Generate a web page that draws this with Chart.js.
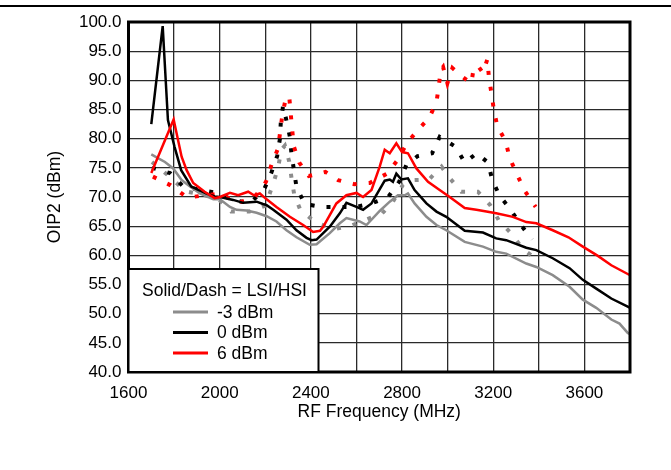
<!DOCTYPE html>
<html>
<head>
<meta charset="utf-8">
<title>OIP2 vs RF Frequency</title>
<script src="https://cdn.jsdelivr.net/npm/chart.js@4"></script>
<style>
  body { margin: 0; background: #fff; }
  #wrap { position: relative; width: 671px; height: 470px; }
  #rule { position: absolute; left: 0; top: 5px; width: 671px; height: 2px; background: #000; }
</style>
</head>
<body>
<div id="wrap">
  <div id="rule"></div>
  <canvas id="myChart" width="671" height="470"></canvas>
</div>
<script>
// LSI (solid) curves
const lsiM3Freq = [1700,1737,1760,1796,1833,1870,1913,1972,2001,2045,2074,2118,2162,2206,2249,2293,2337,2395,2425,2483,2527,2556,2614,2644,2702,2746,2782,2812,2826,2855,2907,2951,2994,3075,3155,3213,3257,3345,3389,3461,3535,3593,3652,3718,3754,3790,3800];
const lsiM3Oip2 = [77.3,76.5,76.0,74.9,72.9,71.8,70.6,69.6,69.6,68.3,67.8,67.7,67.3,66.7,65.8,64.3,63.1,61.8,61.9,63.8,65.5,66.4,65.8,65.2,67.6,69.2,70.3,70.3,70.6,68.9,66.6,65.2,64.3,62.3,61.5,60.6,60.3,58.6,58.0,56.6,54.6,52.4,51.0,49.0,48.3,46.7,46.5];

const lsi0Freq = [1700,1750,1773,1802,1831,1875,1934,1978,2001,2059,2103,2162,2190,2206,2235,2293,2337,2381,2403,2425,2483,2527,2556,2600,2629,2666,2724,2746,2760,2775,2797,2826,2855,2907,2951,2994,3075,3155,3213,3257,3345,3389,3461,3535,3593,3652,3718,3790,3800];
const lsi0Oip2 = [82.5,99.3,83.2,78.6,74.6,71.8,70.7,70.1,70.0,69.5,69.0,69.2,68.8,68.6,67.8,66.1,64.3,63.0,62.6,62.7,64.9,67.2,69.0,68.3,67.8,68.9,72.8,73.0,72.6,74.0,73.0,73.2,71.2,68.9,67.5,66.6,64.2,63.9,62.9,62.6,61.3,60.9,59.5,57.8,55.8,54.3,52.6,51.2,51.0];

const lsi6Freq = [1700,1798,1833,1855,1884,1934,1978,2001,2045,2081,2125,2150,2176,2206,2249,2308,2366,2410,2440,2454,2512,2556,2600,2629,2666,2702,2724,2746,2775,2800,2826,2863,2914,2965,3009,3075,3126,3170,3213,3286,3345,3389,3461,3530,3593,3659,3718,3790,3800];
const lsi6Oip2 = [74.1,83.3,76.9,74.6,72.4,70.9,69.8,70.0,70.7,70.3,70.9,70.3,70.6,69.6,68.3,66.6,65.2,64.0,64.2,64.9,68.9,70.3,70.7,70.0,71.2,75.2,78.1,77.5,79.2,77.7,77.5,74.9,72.6,71.2,70.0,68.1,67.8,67.5,67.2,66.6,65.7,65.5,64.3,63.1,61.5,59.9,58.3,56.8,56.6];

// HSI (dotted) curves
const hsiM3Freq = [1703,1780,1850,1990,2050,2130,2200,2235,2256,2271,2286,2305,2315,2327,2355,2423,2500,2570,2641,2713,2760,2804,2855,2918,2973,3010,3060,3133,3187,3226,3273,3333,3393];
const hsiM3Oip2 = [76.0,73.5,71.0,69.8,67.5,67.5,68.5,72.3,75.0,78.1,78.8,76.1,73.3,70.4,67.7,65.6,64.5,65.0,66.1,67.2,69.2,72.1,72.9,73.0,75.2,73.2,70.9,70.9,68.6,65.9,64.0,61.0,59.2];

const hsi0Freq = [1703,1782,1840,1986,2059,2132,2195,2227,2252,2264,2268,2278,2293,2308,2315,2337,2373,2446,2517,2597,2666,2739,2787,2819,2868,2932,2965,2990,3035,3075,3128,3177,3196,3228,3269,3318,3370];
const hsi0Oip2 = [75.0,74.1,71.8,70.7,69.5,68.9,71.3,74.2,77.0,79.9,82.7,85.6,83.1,80.3,77.4,71.7,68.8,68.3,68.3,68.3,68.9,70.0,72.6,75.5,77.0,77.5,80.3,79.7,78.6,75.9,77.5,75.9,72.9,70.2,68.2,65.4,62.7];

const hsi6Freq = [1707,1785,1858,1999,2081,2154,2203,2227,2256,2275,2290,2305,2311,2318,2325,2349,2391,2464,2519,2590,2658,2734,2782,2822,2877,2918,2951,2961,2970,2980,2999,3021,3065,3104,3115,3136,3155,3174,3181,3192,3203,3218,3254,3272,3304,3339,3386];
const hsi6Oip2 = [73.5,72.0,69.9,70.6,69.0,70.0,72.6,75.5,78.3,84.1,86.9,87.3,84.5,81.6,78.7,75.9,73.6,74.3,72.9,72.2,72.4,74.0,76.4,79.3,81.8,83.5,86.2,89.0,91.8,92.3,89.5,92.1,90.6,89.5,92.3,92.3,91.3,93.6,90.6,87.8,84.9,82.1,79.6,76.7,73.9,71.0,68.3];

const levelLabels = ['-3 dBm', '0 dBm', '6 dBm'];
const levelColors = ['#8c8c8c', '#000000', '#ff0000'];
const legendTitle = 'Solid/Dash = LSI/HSI';

const fontFamily = '"Liberation Sans", Arial, sans-serif';

function pairs(xs, ys){
    const out = [];
    for(let i = 0; i < xs.length; i++){
        out.push({x: xs[i], y: ys[i]});
    }
    return out;
}

function solid(label, color, xs, ys){
    return {label: label, data: pairs(xs, ys), borderColor: color, backgroundColor: color,
        borderWidth: 2.5, pointRadius: 0, showLine: true, tension: 0};
}

function dotted(label, color, xs, ys){
    return {label: label, data: pairs(xs, ys), borderColor: color, backgroundColor: color,
        borderWidth: 4, borderDash: [4, 12], pointRadius: 0, showLine: true, tension: 0};
}

// frame round the plot area plus the boxed legend
const framePlugin = {
    id: 'frame',
    afterDraw(chart){
        const ctx = chart.ctx;
        const a = chart.chartArea;
        ctx.save();
        ctx.strokeStyle = '#000';
        ctx.lineWidth = 3;
        ctx.strokeRect(a.left, a.top, a.right - a.left, a.bottom - a.top);

        // legend box
        const bx = a.left, by = 269, bw = 190, bh = a.bottom - 269;
        ctx.fillStyle = '#fff';
        ctx.fillRect(bx, by, bw, bh);
        ctx.lineWidth = 2;
        ctx.strokeRect(bx, by, bw, bh);
        ctx.fillStyle = '#000';
        ctx.font = '17.5px ' + fontFamily;
        ctx.textBaseline = 'middle';
        ctx.textAlign = 'center';
        ctx.fillText(legendTitle, bx + 96, 291);
        ctx.textAlign = 'left';
        for(let i = 0; i < levelLabels.length; i++){
            const y = 312 + i * 20.5;
            ctx.strokeStyle = levelColors[i];
            ctx.lineWidth = 3;
            ctx.beginPath();
            ctx.moveTo(173, y);
            ctx.lineTo(208, y);
            ctx.stroke();
            ctx.fillStyle = '#000';
            ctx.fillText(levelLabels[i], 217, y + 1);
        }
        ctx.restore();
    }
};

const ctx = document.getElementById('myChart').getContext('2d');
const myChart = new Chart(ctx, {
    type: 'scatter',
    data: {
        datasets: [
            solid(levelLabels[2] + ' LSI', levelColors[2], lsi6Freq, lsi6Oip2),
            solid(levelLabels[1] + ' LSI', levelColors[1], lsi0Freq, lsi0Oip2),
            solid(levelLabels[0] + ' LSI', levelColors[0], lsiM3Freq, lsiM3Oip2),
            dotted(levelLabels[2] + ' HSI', levelColors[2], hsi6Freq, hsi6Oip2),
            dotted(levelLabels[1] + ' HSI', levelColors[1], hsi0Freq, hsi0Oip2),
            dotted(levelLabels[0] + ' HSI', levelColors[0], hsiM3Freq, hsiM3Oip2)
        ]
    },
    options: {
        responsive: false,
        animation: false,
        layout: { padding: { top: 22, right: 41, left: 0, bottom: 0 } },
        plugins: {
            legend: { display: false },
            tooltip: { enabled: false }
        },
        scales: {
            x: {
                type: 'linear',
                min: 1600,
                max: 3800,
                afterFit(scale){ scale.height = 98; },
                grid: { color: '#2a2a2a', lineWidth: 1.3, drawTicks: false },
                border: { display: false },
                ticks: {
                    stepSize: 200,
                    padding: 11,
                    color: '#000',
                    font: { family: fontFamily, size: 17 },
                    maxRotation: 0,
                    autoSkip: false,
                    callback: function(v){ return (v % 400 === 0 && v < 3800) ? String(v) : ''; }
                },
                title: {
                    display: true,
                    text: 'RF Frequency (MHz)',
                    color: '#000',
                    font: { family: fontFamily, size: 17.5 },
                    padding: { top: 0, bottom: 47 }
                }
            },
            y: {
                min: 40,
                max: 100,
                afterFit(scale){ scale.width = 128.5; },
                grid: { color: '#2a2a2a', lineWidth: 1.3, drawTicks: false },
                border: { display: false },
                ticks: {
                    stepSize: 5,
                    padding: 7,
                    color: '#000',
                    font: { family: fontFamily, size: 17 },
                    callback: function(v){ return v.toFixed(1); }
                },
                title: {
                    display: true,
                    text: 'OIP2 (dBm)',
                    color: '#000',
                    font: { family: fontFamily, size: 17.5 },
                    padding: { top: 45, bottom: 0 }
                }
            }
        }
    },
    plugins: [framePlugin]
});
</script>
</body>
</html>
